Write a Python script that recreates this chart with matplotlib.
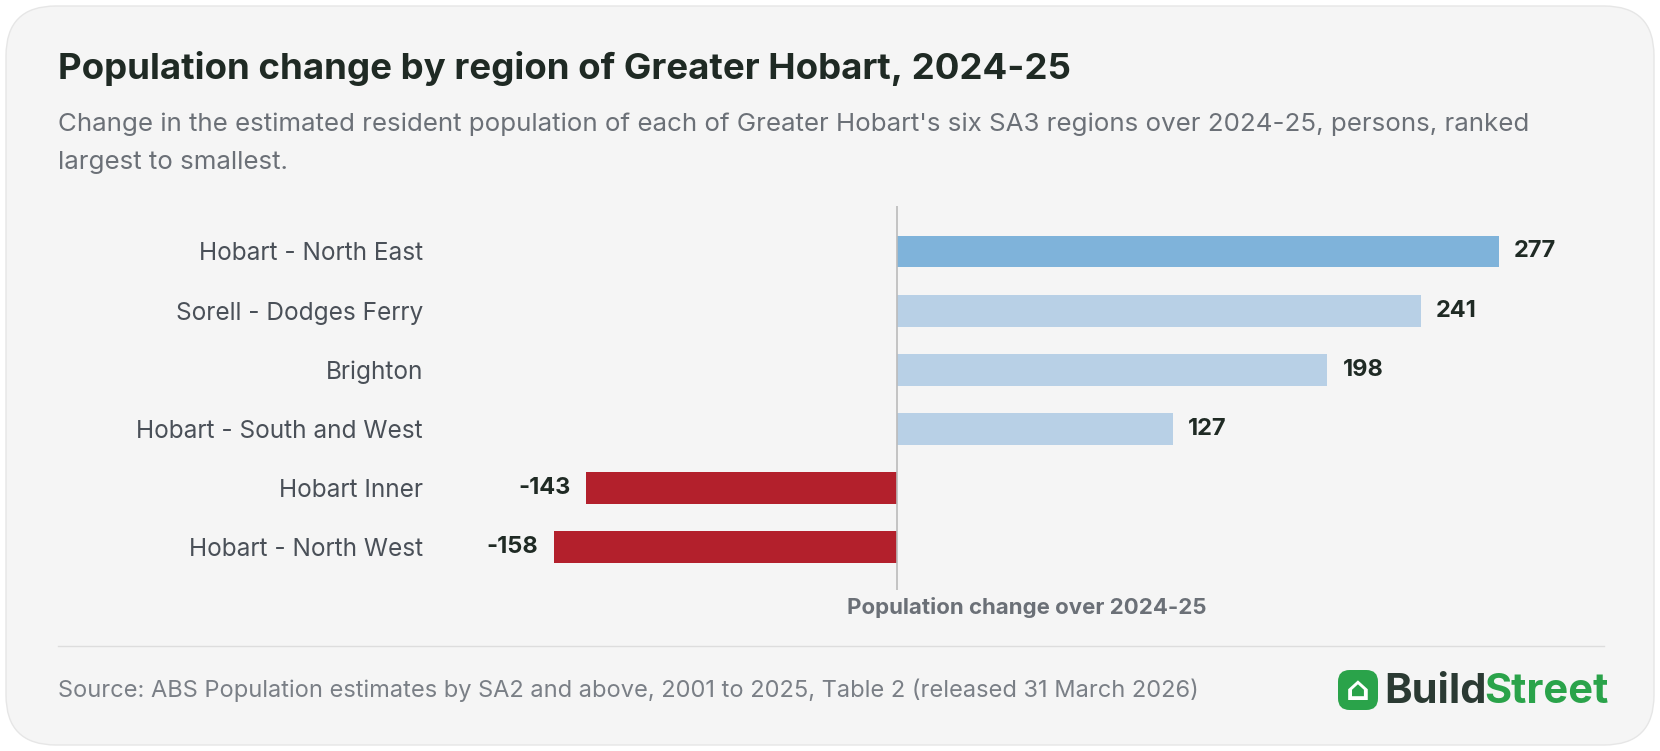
import matplotlib
matplotlib.use("Agg")
import matplotlib.pyplot as plt
from matplotlib.patches import FancyBboxPatch

regions = ["Hobart - North East", "Sorell - Dodges Ferry", "Brighton",
           "Hobart - South and West", "Hobart Inner", "Hobart - North West"]
values = [277, 241, 198, 127, -143, -158]
colors = ["#7fb3da", "#b8d0e6", "#b8d0e6", "#b8d0e6", "#b3202c", "#b3202c"]

plt.rcParams['font.family'] = ['Inter', 'DejaVu Sans']
W, H = 1660, 751
fig = plt.figure(figsize=(W/100, H/100), dpi=100)
fig.patch.set_facecolor("white")
card = FancyBboxPatch((6/W, 6/H), (W-12)/W, (H-12)/H,
                      boxstyle="round,pad=0,rounding_size=0.03",
                      transform=fig.transFigure, facecolor="#f5f5f5",
                      edgecolor="#e6e6e6", lw=1, mutation_aspect=W/H, zorder=-10)
fig.patches.append(card)

fig.text(58/W, 1-69/H, "Population change by region of Greater Hobart, 2024-25",
         fontsize=26.4, fontweight="bold", color="#1f2a24", va="center")
fig.text(58/W, 1-124/H, "Change in the estimated resident population of each of Greater Hobart's six SA3 regions over 2024-25, persons, ranked",
         fontsize=18.65, color="#6b7077", va="center")
fig.text(58/W, 1-162/H, "largest to smallest.", fontsize=18.65, color="#6b7077", va="center")

ax = fig.add_axes([445/W, 1-590/H, 1164/W, 384/H])
ax.set_facecolor("none")
y = list(range(len(regions)))
ax.barh(y, values, color=colors, height=0.54)
ax.set_xlim(-208, 327.6)
ax.set_ylim(len(regions)-0.27, -0.77)
ax.axvline(0, color="#bbbbbb", lw=1.2)
for i, v in enumerate(values):
    off = 7 if v > 0 else -7
    ax.text(v + off, i, f"{v}", ha="left" if v > 0 else "right", va="center",
            fontsize=17, fontweight="bold", color="#1f2a24")
ax.set_yticks(y)
ax.set_yticklabels(regions, fontsize=17.6, color="#4a5058")
ax.tick_params(axis="y", length=0, pad=16)
ax.set_xticks([])
for s in ax.spines.values():
    s.set_visible(False)
fig.text(1027/W, 1-607/H, "Population change over 2024-25", ha="center", va="center",
         fontsize=16, fontweight="bold", color="#6b7077")

fig.add_artist(plt.Line2D([58/W, 1604/W], [1-646/H, 1-646/H], color="#dddddd", lw=1))
fig.text(58/W, 1-690/H, "Source: ABS Population estimates by SA2 and above, 2001 to 2025, Table 2 (released 31 March 2026)",
         fontsize=17, color="#7a7f86", va="center")

icon = FancyBboxPatch((1338/W, 1-710/H), 40/W, 40/H,
                      boxstyle="round,pad=0,rounding_size=0.007",
                      transform=fig.transFigure, facecolor="#2aa34a", edgecolor="none",
                      mutation_aspect=W/H)
fig.patches.append(icon)
fig.text(1358/W, 1-691/H, "⌂", ha="center", va="center", fontsize=24, color="white",
         fontweight="bold", family=["DejaVu Sans"])
fig.text(1384/W, 1-692/H, "Build", fontsize=30, fontweight="bold", color="#2b3a33", va="center")
fig.text(1484/W, 1-692/H, "Street", fontsize=30, fontweight="bold", color="#2aa34a", va="center")

fig.savefig("out.png", dpi=100, facecolor="white")
